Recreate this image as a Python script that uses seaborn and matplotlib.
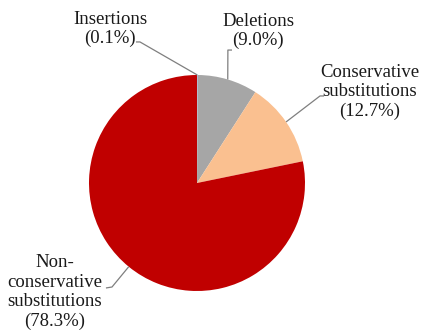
import numpy as np
import pandas as pd
import matplotlib
matplotlib.use("Agg")
import matplotlib.pyplot as plt
import seaborn as sns

# Share of each mutation type
categories = ["Insertions", "Deletions", "Conservative substitutions",
              "Non-conservative substitutions"]
shares = [0.1, 9.0, 12.7, 78.3]
label_texts = ["Insertions\n(0.1%)", "Deletions\n(9.0%)",
               "Conservative\nsubstitutions\n(12.7%)",
               "Non-\nconservative\nsubstitutions\n(78.3%)"]
colors = ["#8EA9DB", "#A6A6A6", "#FAC090", "#C00000"]

# Label anchor (text centre) and leader elbow / tail, in axes data units (radius = 1)
label_xy = [(-0.806, 1.426), (0.565, 1.407), (1.602, 0.847), (-1.315, -1.009)]
elbow_xy = [(-0.528, 1.306), (0.286, 1.231), (1.139, 0.806), (-0.787, -0.963)]
tail_xy = [(-0.565, 1.306), (0.324, 1.231), (1.176, 0.806), (-0.843, -0.972)]

df = pd.DataFrame({"category": categories, "share": shares})

sns.set_theme(style="white")
plt.rcParams["font.family"] = ["Liberation Serif", "DejaVu Serif"]

fig = plt.figure(figsize=(4.23, 3.33), dpi=100)
ax = fig.add_axes([0, 0, 1, 1])

wedges, _ = ax.pie(df["share"], colors=colors, startangle=90, counterclock=False,
                   radius=1, center=(0, 0), wedgeprops=dict(linewidth=0))

for w, txt, lxy, exy, txy in zip(wedges, label_texts, label_xy, elbow_xy, tail_xy):
    mid = np.deg2rad((w.theta1 + w.theta2) / 2)
    edge = (np.cos(mid), np.sin(mid))
    ax.plot([edge[0], exy[0], txy[0]], [edge[1], exy[1], txy[1]],
            color="#7F7F7F", lw=0.9, solid_capstyle="butt", zorder=3)
    ax.text(lxy[0], lxy[1], txt, ha="center", va="center", multialignment="center",
            fontsize=13.5, color="#1a1a1a", linespacing=1.18)

ax.set_xlim(-197 / 108, (423 - 197) / 108)
ax.set_ylim((183 - 333) / 108, 183 / 108)
ax.set_aspect("auto")
ax.axis("off")

fig.savefig("out.png", dpi=100, facecolor="white")
